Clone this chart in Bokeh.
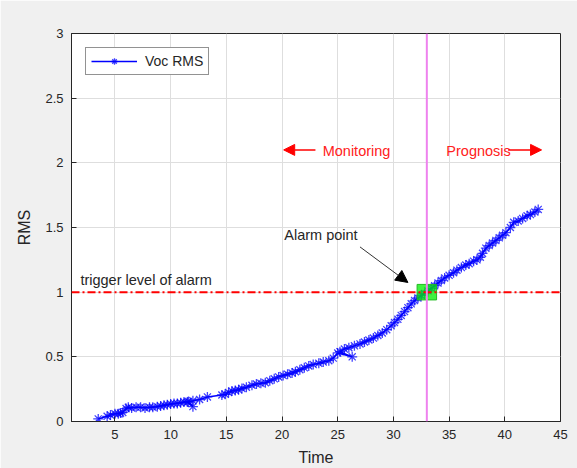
from bokeh.plotting import figure
from bokeh.models import (Range1d, FixedTicker, Arrow, NormalHead, Label, Span, Legend, LegendItem)
from bokeh.embed import file_html
from bokeh.resources import INLINE

# ---- data ----
time = [3.5, 4.3, 4.6, 5.0, 5.3, 5.5, 5.7, 6.0, 6.2, 6.5, 6.9, 7.3, 7.7, 8.1, 8.4, 8.8,
        9.1, 9.4, 9.7, 10.0, 10.3, 10.6, 10.9, 11.2, 11.5, 12.0, 11.6, 12.0, 12.6, 13.3,
        14.6, 14.9, 15.2, 15.5, 15.8, 16.1, 16.4, 16.8, 17.3, 17.7, 18.1, 18.5, 18.9,
        19.3, 19.7, 20.1, 20.5, 20.9, 21.2, 21.6, 22.0, 22.4, 22.8, 23.3, 23.7, 24.2,
        24.6, 25.0, 26.3, 25.2, 25.6, 26.0, 26.5, 27.0, 27.4, 27.8, 28.2, 28.6, 29.0,
        29.4, 29.8, 30.1, 30.4, 30.7, 31.0, 31.3, 31.6, 31.9, 32.2, 32.5, 32.8, 33.1,
        33.4, 33.7, 34.0, 34.3, 34.6, 35.0, 35.4, 35.7, 36.1, 36.5, 36.8, 37.2, 37.5,
        37.8, 38.0, 38.3, 38.6, 38.9, 39.2, 39.5, 39.8, 40.1, 40.5, 40.8, 41.2, 41.6,
        42.0, 42.3, 42.7, 43.0]
voc_rms = [0.02, 0.04, 0.05, 0.06, 0.06, 0.065, 0.07, 0.10, 0.11, 0.105, 0.11, 0.11, 0.105,
           0.11, 0.11, 0.115, 0.12, 0.125, 0.13, 0.135, 0.14, 0.14, 0.145, 0.15, 0.15,
           0.115, 0.155, 0.16, 0.17, 0.19, 0.205, 0.21, 0.225, 0.235, 0.24, 0.245, 0.255,
           0.265, 0.28, 0.29, 0.295, 0.30, 0.315, 0.33, 0.345, 0.355, 0.365, 0.375, 0.385,
           0.40, 0.415, 0.43, 0.44, 0.45, 0.46, 0.47, 0.49, 0.53, 0.50, 0.54, 0.56, 0.57,
           0.585, 0.60, 0.615, 0.63, 0.645, 0.665, 0.685, 0.71, 0.74, 0.765, 0.79, 0.82,
           0.85, 0.88, 0.91, 0.935, 0.955, 0.975, 0.99, 1.01, 1.03, 1.05, 1.07, 1.09, 1.11,
           1.13, 1.15, 1.17, 1.19, 1.21, 1.22, 1.24, 1.25, 1.27, 1.30, 1.34, 1.36, 1.38,
           1.40, 1.42, 1.44, 1.46, 1.50, 1.54, 1.55, 1.57, 1.59, 1.60, 1.62, 1.64]

x_ticks = [5, 10, 15, 20, 25, 30, 35, 40, 45]
y_ticks = [0, 0.5, 1, 1.5, 2, 2.5, 3]
trigger_level = 1.0
alarm_time = 33.0
series_label = "Voc RMS"

FONT = "Liberation Sans"
TXT = "#262626"

p = figure(width=577, height=468, output_backend="svg", toolbar_location=None,
           x_range=Range1d(1.1, 45), y_range=Range1d(0, 3),
           min_border_left=71, min_border_right=17, min_border_top=33, min_border_bottom=47)
p.background_fill_color = "white"
p.border_fill_color = "#f0f0f0"
p.outline_line_color = TXT
p.outline_line_width = 1

for ax in (p.xaxis[0], p.yaxis[0]):
    ax.major_tick_in = 5
    ax.major_tick_out = 0
    ax.minor_tick_in = 0
    ax.minor_tick_out = 0
    ax.axis_line_color = TXT
    ax.major_tick_line_color = TXT
    ax.major_label_text_font = FONT
    ax.major_label_text_font_size = "13px"
    ax.major_label_text_color = TXT
    ax.axis_label_text_font = FONT
    ax.axis_label_text_font_size = "16px"
    ax.axis_label_text_font_style = "normal"
    ax.axis_label_text_color = TXT

p.xaxis.ticker = FixedTicker(ticks=x_ticks)
p.yaxis.ticker = FixedTicker(ticks=y_ticks)
p.yaxis.major_label_overrides = {0: "0", 0.5: "0.5", 1: "1", 1.5: "1.5", 2: "2", 2.5: "2.5", 3: "3"}
p.xaxis.axis_label = "Time"
p.yaxis.axis_label = "RMS"
p.xaxis.major_label_standoff = 8
p.yaxis.major_label_standoff = 8
p.xaxis.axis_label_standoff = 7
p.yaxis.axis_label_standoff = 9

p.grid.grid_line_color = "#dedede"
p.grid.grid_line_width = 1
p.xgrid.ticker = FixedTicker(ticks=x_ticks)
p.ygrid.ticker = FixedTicker(ticks=y_ticks)

# trigger level and alarm time lines
p.add_layout(Span(location=trigger_level, dimension="width", line_color="red",
                  line_width=2, line_dash="8 3 2 3"))
p.add_layout(Span(location=alarm_time, dimension="height", line_color="#ee82ee",
                  line_width=2))

# series
r_line = p.line(time, voc_rms, line_color="blue", line_width=1.5)
r_pts = p.scatter(time, voc_rms, marker="asterisk", size=10, line_color="blue",
                  line_width=1.3, line_alpha=0.75)

# alarm point box
p.rect(x=[alarm_time], y=[trigger_level], width=1.75, height=0.12,
       fill_color="#00ee00", fill_alpha=0.75, line_color="#22bb22", line_width=1)

# annotations
ANN = "14.5px"
p.add_layout(Label(x=1.9, y=1.035, text="trigger level of alarm", text_font=FONT,
                   text_font_size=ANN, text_color=TXT))
p.add_layout(Label(x=20.2, y=1.38, text="Alarm point", text_font=FONT,
                   text_font_size=ANN, text_color=TXT))
p.add_layout(Arrow(x_start=27.0, y_start=1.35, x_end=31.3, y_end=1.075,
                   line_color="#333333", line_width=1,
                   end=NormalHead(size=12, fill_color="black", line_color="black")))

p.add_layout(Label(x=23.65, y=2.095, text="Monitoring", text_font=FONT,
                   text_font_size=ANN, text_color="#ff2020", text_baseline="middle"))
p.add_layout(Arrow(x_start=23.0, y_start=2.1, x_end=20.15, y_end=2.1,
                   line_color="red", line_width=1.5,
                   end=NormalHead(size=11, fill_color="red", line_color="red")))
p.add_layout(Label(x=34.75, y=2.095, text="Prognosis", text_font=FONT,
                   text_font_size=ANN, text_color="#ff2020", text_baseline="middle"))
p.add_layout(Arrow(x_start=40.3, y_start=2.1, x_end=43.3, y_end=2.1,
                   line_color="red", line_width=1.5,
                   end=NormalHead(size=11, fill_color="red", line_color="red")))

legend = Legend(items=[LegendItem(label=series_label, renderers=[r_line, r_pts])],
                location="top_left", margin=14)
legend.label_text_font = FONT
legend.label_text_font_size = "14px"
legend.label_text_color = TXT
legend.glyph_width = 46
legend.glyph_height = 16
legend.padding = 5
legend.spacing = 0
legend.label_standoff = 8
legend.border_line_color = TXT
legend.border_line_width = 1
legend.background_fill_color = "white"
p.add_layout(legend)

open("out.html", "w").write(file_html(p, INLINE))
